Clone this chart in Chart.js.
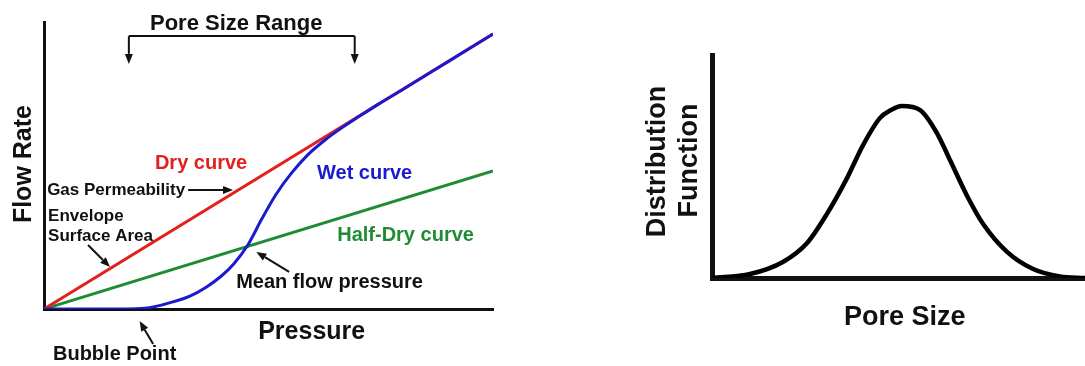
<!DOCTYPE html>
<html>
<head>
<meta charset="utf-8">
<script src="https://cdn.jsdelivr.net/npm/chart.js@4"></script>
<style>
  body { margin:0; background:#fff; overflow:hidden; }
  #wrap { position:relative; width:1085px; height:366px; }
  canvas { position:absolute; top:0; }
</style>
</head>
<body>
<div id="wrap">
  <canvas id="flowchart" width="560" height="366" style="left:0"></canvas>
  <canvas id="distchart" width="525" height="366" style="left:560px"></canvas>
</div>
<script>
// left panel: flow rate against pressure (arbitrary units 0-100)
const linePressure = [0, 100];
const dryFlow = [0, 95.8];
const halfDryFlow = [0, 48.1];
const wetPressure = [0, 12.5, 22.5, 28.5, 32.5, 36.2, 39.5, 42.3, 45.4, 48.55, 51.7, 55.2, 58.8, 62.6, 66.4, 70.4, 74.4, 80, 90, 100];
const wetFlow =     [0, 0, 0.3, 2.4, 4.5, 7.7, 11.5, 15.8, 22.3, 31.5, 40.0, 47.5, 53.8, 58.9, 63.2, 67.3, 71.3, 76.6, 86.2, 95.8];

// right panel: distribution function against pore size
const poreSize =     [0, 10.2, 19.0, 25.5, 30.8, 36.2, 40.5, 45.0, 48.0, 50.9, 55.8, 60.3, 63.8, 68.4, 72.7, 79.1, 86.1, 93.3, 100];
const distribution = [0, 1.8, 7.2, 15.7, 28.7, 44.8, 59.6, 71.7, 75.3, 77.1, 75.3, 65.0, 52.9, 36.8, 24.2, 11.7, 4.0, 0.7, 0];

const FONT = '"Liberation Sans", Arial, sans-serif';

function pts(xs, ys){
  return xs.map((x, i) => ({x: x, y: ys[i]}));
}

// labels and arrows, placed in data units
const flowNotes = {
  texts: [
    {t:'Pore Size Range', x:42.8, y:97.2, size:22, align:'center'},
    {t:'Dry curve', x:24.7, y:48.8, size:20, color:'#e3201c'},
    {t:'Wet curve', x:60.8, y:45.3, size:20, color:'#1a1ad0'},
    {t:'Gas Permeability', x:0.7, y:39.7, size:17},
    {t:'Envelope', x:0.9, y:30.7, size:17},
    {t:'Surface Area', x:0.9, y:23.7, size:17},
    {t:'Half-Dry curve', x:65.3, y:23.7, size:20, color:'#1f8c35'},
    {t:'Mean flow pressure', x:42.8, y:7.3, size:20},
    {t:'Pressure', x:47.7, y:-10.5, size:25},
    {t:'Bubble Point', x:2.0, y:-17.8, size:20},
    {t:'Flow Rate', x:-2.9, y:50.5, size:25, rotate:true}
  ],
  arrows: [
    [32.1, 41.5, 42.1, 41.5],
    [9.8, 22.3, 14.7, 14.6],
    [54.6, 12.9, 47.3, 19.9],
    [24.3, -12.2, 21.3, -4.2],
    [18.9, 95.1, 18.9, 85.4],
    [69.2, 95.1, 69.2, 85.4]
  ],
  lines: [
    [18.9, 95.1, 69.2, 95.1]
  ]
};

const distNotes = {
  texts: [
    {t:'Pore Size', x:51.7, y:-21.1, size:27, align:'center'},
    {t:'Distribution', x:-12.6, y:52.2, size:27, rotate:true},
    {t:'Function', x:-4.0, y:52.7, size:27, rotate:true}
  ],
  arrows: [],
  lines: []
};

function notesPlugin(notes){
  return {
    id: 'notes',
    afterDraw(chart){
      const ctx = chart.ctx, sx = chart.scales.x, sy = chart.scales.y;
      ctx.save();
      ctx.textBaseline = 'alphabetic';
      notes.texts.forEach(n => {
        const px = sx.getPixelForValue(n.x), py = sy.getPixelForValue(n.y);
        ctx.fillStyle = n.color || '#111';
        ctx.font = 'bold ' + n.size + 'px ' + FONT;
        if (n.rotate) {
          ctx.save();
          ctx.translate(px, py);
          ctx.rotate(-Math.PI / 2);
          ctx.textAlign = 'center';
          ctx.fillText(n.t, 0, 0);
          ctx.restore();
        } else {
          ctx.textAlign = n.align || 'left';
          ctx.fillText(n.t, px, py);
        }
      });
      ctx.strokeStyle = '#111';
      ctx.fillStyle = '#111';
      ctx.lineWidth = 2;
      notes.lines.forEach(l => {
        ctx.beginPath();
        ctx.moveTo(sx.getPixelForValue(l[0]), sy.getPixelForValue(l[1]));
        ctx.lineTo(sx.getPixelForValue(l[2]), sy.getPixelForValue(l[3]));
        ctx.stroke();
      });
      notes.arrows.forEach(a => {
        const x1 = sx.getPixelForValue(a[0]), y1 = sy.getPixelForValue(a[1]);
        const x2 = sx.getPixelForValue(a[2]), y2 = sy.getPixelForValue(a[3]);
        const ang = Math.atan2(y2 - y1, x2 - x1);
        const hl = 10, hw = 4;
        const bx = x2 - hl * Math.cos(ang), by = y2 - hl * Math.sin(ang);
        ctx.beginPath();
        ctx.moveTo(x1, y1);
        ctx.lineTo(bx, by);
        ctx.stroke();
        ctx.beginPath();
        ctx.moveTo(x2, y2);
        ctx.lineTo(bx + hw * Math.sin(ang), by - hw * Math.cos(ang));
        ctx.lineTo(bx - hw * Math.sin(ang), by + hw * Math.cos(ang));
        ctx.closePath();
        ctx.fill();
      });
      ctx.restore();
    }
  };
}

function axis(width){
  return {
    type: 'linear', min: 0, max: 100,
    ticks: { display: false },
    grid: { display: false, drawTicks: false },
    border: { display: true, color: '#111', width: width }
  };
}

const common = {
  responsive: false,
  animation: false,
  events: [],
  plugins: { legend: { display: false }, tooltip: { enabled: false } },
  elements: { point: { radius: 0 } }
};

new Chart(document.getElementById('flowchart').getContext('2d'), {
  type: 'line',
  data: {
    datasets: [
      { label: 'Wet curve', data: pts(wetPressure, wetFlow), borderColor: '#1a1ad0', borderWidth: 3,
        cubicInterpolationMode: 'monotone', order: 0 },
      { label: 'Dry curve', data: pts(linePressure, dryFlow), borderColor: '#e3201c', borderWidth: 3, order: 1 },
      { label: 'Half-Dry curve', data: pts(linePressure, halfDryFlow), borderColor: '#1f8c35', borderWidth: 3, order: 2 }
    ]
  },
  options: Object.assign({}, common, {
    layout: { padding: { left: 44, top: 22, right: 67, bottom: 57 } },
    scales: { x: axis(3), y: axis(3) }
  }),
  plugins: [notesPlugin(flowNotes)]
});

new Chart(document.getElementById('distchart').getContext('2d'), {
  type: 'line',
  data: {
    datasets: [
      { label: 'Distribution', data: pts(poreSize, distribution), borderColor: '#000', borderWidth: 4.5,
        cubicInterpolationMode: 'monotone' }
    ]
  },
  options: Object.assign({}, common, {
    layout: { padding: { left: 152, top: 55, right: 0, bottom: 88 } },
    scales: { x: axis(5), y: axis(5) }
  }),
  plugins: [notesPlugin(distNotes)]
});
</script>
</body>
</html>
